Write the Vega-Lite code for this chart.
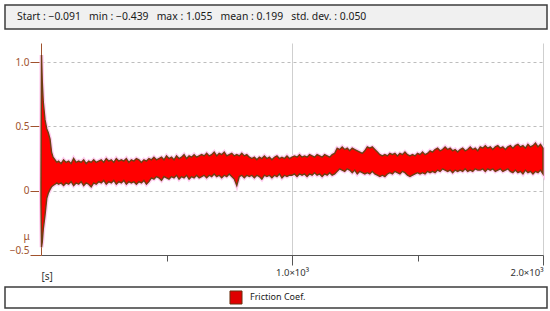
{
  "$schema": "https://vega.github.io/schema/vega-lite/v6.json",
  "padding": {"left": 4, "top": 4, "right": 4, "bottom": 5},
  "background": "white",
  "config": {"font": "Noto Sans", "view": {"stroke": null}},
  "datasets": {
    "stats": [{"label": "Start : −0.091\u00a0\u00a0\u00a0min : −0.439\u00a0\u00a0\u00a0max : 1.055\u00a0\u00a0\u00a0mean : 0.199\u00a0\u00a0\u00a0std. dev. : 0.050"}],
    "legend": [{"series": "Friction Coef."}],
    "empty": [],
    "friction": [
      {"t":0,"lo":-0.09,"hi":0.05},{"t":2,"lo":-0.44,"hi":1.055},{"t":5,"lo":-0.40,"hi":0.85},{"t":9,"lo":-0.30,"hi":0.69},
      {"t":16,"lo":-0.19,"hi":0.55},{"t":23,"lo":-0.06,"hi":0.48},{"t":29,"lo":-0.02,"hi":0.45},{"t":36,"lo":0.01,"hi":0.40},
      {"t":42,"lo":0.03,"hi":0.30},{"t":48,"lo":0.04,"hi":0.26},{"t":56,"lo":0.05,"hi":0.24},{"t":63,"lo":0.06,"hi":0.22},
      {"t":70,"lo":0.05,"hi":0.23},{"t":80,"lo":0.06,"hi":0.21},{"t":90,"lo":0.04,"hi":0.24},{"t":100,"lo":0.06,"hi":0.22},
      {"t":110,"lo":0.05,"hi":0.23},{"t":120,"lo":0.07,"hi":0.21},{"t":130,"lo":0.04,"hi":0.25},{"t":140,"lo":0.06,"hi":0.22},
      {"t":150,"lo":0.05,"hi":0.23},{"t":160,"lo":0.07,"hi":0.22},{"t":170,"lo":0.04,"hi":0.24},{"t":180,"lo":0.06,"hi":0.21},
      {"t":190,"lo":0.05,"hi":0.23},{"t":200,"lo":0.03,"hi":0.22},{"t":210,"lo":0.06,"hi":0.24},{"t":220,"lo":0.05,"hi":0.22},
      {"t":230,"lo":0.07,"hi":0.23},{"t":240,"lo":0.06,"hi":0.24},{"t":250,"lo":0.08,"hi":0.22},{"t":260,"lo":0.05,"hi":0.25},
      {"t":270,"lo":0.07,"hi":0.23},{"t":280,"lo":0.06,"hi":0.24},{"t":290,"lo":0.08,"hi":0.22},{"t":300,"lo":0.05,"hi":0.25},
      {"t":310,"lo":0.07,"hi":0.23},{"t":320,"lo":0.06,"hi":0.24},{"t":330,"lo":0.08,"hi":0.23},{"t":340,"lo":0.05,"hi":0.25},
      {"t":350,"lo":0.07,"hi":0.22},{"t":360,"lo":0.06,"hi":0.24},{"t":370,"lo":0.07,"hi":0.23},{"t":380,"lo":0.05,"hi":0.25},
      {"t":390,"lo":0.07,"hi":0.24},{"t":400,"lo":0.06,"hi":0.22},{"t":410,"lo":0.08,"hi":0.24},{"t":420,"lo":0.05,"hi":0.23},
      {"t":430,"lo":0.07,"hi":0.25},{"t":440,"lo":0.10,"hi":0.24},{"t":450,"lo":0.09,"hi":0.26},{"t":460,"lo":0.11,"hi":0.24},
      {"t":470,"lo":0.10,"hi":0.25},{"t":480,"lo":0.08,"hi":0.26},{"t":490,"lo":0.11,"hi":0.24},{"t":500,"lo":0.10,"hi":0.27},
      {"t":510,"lo":0.09,"hi":0.25},{"t":520,"lo":0.11,"hi":0.26},{"t":530,"lo":0.10,"hi":0.24},{"t":540,"lo":0.12,"hi":0.27},
      {"t":550,"lo":0.09,"hi":0.25},{"t":560,"lo":0.11,"hi":0.26},{"t":570,"lo":0.10,"hi":0.28},{"t":580,"lo":0.12,"hi":0.25},
      {"t":590,"lo":0.09,"hi":0.27},{"t":600,"lo":0.11,"hi":0.26},{"t":610,"lo":0.10,"hi":0.28},{"t":620,"lo":0.12,"hi":0.26},
      {"t":630,"lo":0.10,"hi":0.27},{"t":640,"lo":0.11,"hi":0.28},{"t":650,"lo":0.12,"hi":0.27},{"t":660,"lo":0.10,"hi":0.29},
      {"t":670,"lo":0.12,"hi":0.27},{"t":680,"lo":0.11,"hi":0.28},{"t":690,"lo":0.13,"hi":0.30},{"t":700,"lo":0.11,"hi":0.27},
      {"t":710,"lo":0.12,"hi":0.29},{"t":720,"lo":0.10,"hi":0.28},{"t":730,"lo":0.12,"hi":0.30},{"t":740,"lo":0.11,"hi":0.27},
      {"t":750,"lo":0.13,"hi":0.28},{"t":760,"lo":0.11,"hi":0.29},{"t":770,"lo":0.09,"hi":0.27},{"t":780,"lo":0.04,"hi":0.28},
      {"t":790,"lo":0.11,"hi":0.27},{"t":800,"lo":0.12,"hi":0.29},{"t":810,"lo":0.10,"hi":0.27},{"t":820,"lo":0.12,"hi":0.28},
      {"t":830,"lo":0.11,"hi":0.26},{"t":840,"lo":0.12,"hi":0.25},{"t":850,"lo":0.10,"hi":0.26},{"t":860,"lo":0.12,"hi":0.24},
      {"t":870,"lo":0.11,"hi":0.26},{"t":880,"lo":0.09,"hi":0.25},{"t":890,"lo":0.12,"hi":0.27},{"t":900,"lo":0.11,"hi":0.25},
      {"t":910,"lo":0.12,"hi":0.26},{"t":920,"lo":0.10,"hi":0.24},{"t":930,"lo":0.12,"hi":0.26},{"t":940,"lo":0.11,"hi":0.27},
      {"t":950,"lo":0.13,"hi":0.25},{"t":960,"lo":0.10,"hi":0.26},{"t":970,"lo":0.12,"hi":0.25},{"t":980,"lo":0.11,"hi":0.27},
      {"t":990,"lo":0.12,"hi":0.25},{"t":1000,"lo":0.12,"hi":0.26},{"t":1010,"lo":0.13,"hi":0.27},{"t":1020,"lo":0.11,"hi":0.26},
      {"t":1030,"lo":0.13,"hi":0.28},{"t":1040,"lo":0.12,"hi":0.26},{"t":1050,"lo":0.13,"hi":0.27},{"t":1060,"lo":0.11,"hi":0.26},
      {"t":1070,"lo":0.13,"hi":0.28},{"t":1080,"lo":0.12,"hi":0.27},{"t":1090,"lo":0.14,"hi":0.26},{"t":1100,"lo":0.12,"hi":0.28},
      {"t":1110,"lo":0.13,"hi":0.27},{"t":1120,"lo":0.11,"hi":0.26},{"t":1130,"lo":0.13,"hi":0.28},{"t":1140,"lo":0.12,"hi":0.27},
      {"t":1150,"lo":0.14,"hi":0.26},{"t":1160,"lo":0.12,"hi":0.28},{"t":1170,"lo":0.13,"hi":0.29},{"t":1180,"lo":0.15,"hi":0.33},
      {"t":1190,"lo":0.17,"hi":0.32},{"t":1200,"lo":0.16,"hi":0.34},{"t":1210,"lo":0.15,"hi":0.32},{"t":1220,"lo":0.17,"hi":0.33},
      {"t":1230,"lo":0.16,"hi":0.31},{"t":1240,"lo":0.14,"hi":0.33},{"t":1250,"lo":0.16,"hi":0.32},{"t":1260,"lo":0.13,"hi":0.31},
      {"t":1270,"lo":0.15,"hi":0.30},{"t":1280,"lo":0.14,"hi":0.29},{"t":1290,"lo":0.13,"hi":0.31},{"t":1300,"lo":0.14,"hi":0.34},
      {"t":1310,"lo":0.13,"hi":0.33},{"t":1320,"lo":0.15,"hi":0.34},{"t":1330,"lo":0.13,"hi":0.32},{"t":1340,"lo":0.12,"hi":0.30},
      {"t":1350,"lo":0.11,"hi":0.28},{"t":1360,"lo":0.12,"hi":0.27},{"t":1370,"lo":0.11,"hi":0.28},{"t":1380,"lo":0.13,"hi":0.27},
      {"t":1390,"lo":0.14,"hi":0.29},{"t":1400,"lo":0.13,"hi":0.28},{"t":1410,"lo":0.15,"hi":0.29},{"t":1420,"lo":0.14,"hi":0.27},
      {"t":1430,"lo":0.13,"hi":0.29},{"t":1440,"lo":0.15,"hi":0.28},{"t":1450,"lo":0.14,"hi":0.30},{"t":1460,"lo":0.12,"hi":0.28},
      {"t":1470,"lo":0.11,"hi":0.27},{"t":1480,"lo":0.12,"hi":0.28},{"t":1490,"lo":0.13,"hi":0.27},{"t":1500,"lo":0.14,"hi":0.29},
      {"t":1510,"lo":0.13,"hi":0.28},{"t":1520,"lo":0.14,"hi":0.30},{"t":1530,"lo":0.13,"hi":0.28},{"t":1540,"lo":0.15,"hi":0.29},
      {"t":1550,"lo":0.14,"hi":0.31},{"t":1560,"lo":0.15,"hi":0.30},{"t":1570,"lo":0.14,"hi":0.32},{"t":1580,"lo":0.16,"hi":0.33},
      {"t":1590,"lo":0.15,"hi":0.31},{"t":1600,"lo":0.17,"hi":0.32},{"t":1610,"lo":0.16,"hi":0.34},{"t":1620,"lo":0.15,"hi":0.32},
      {"t":1630,"lo":0.16,"hi":0.33},{"t":1640,"lo":0.14,"hi":0.31},{"t":1650,"lo":0.16,"hi":0.32},{"t":1660,"lo":0.15,"hi":0.30},
      {"t":1670,"lo":0.16,"hi":0.32},{"t":1680,"lo":0.15,"hi":0.33},{"t":1690,"lo":0.17,"hi":0.31},{"t":1700,"lo":0.15,"hi":0.32},
      {"t":1710,"lo":0.16,"hi":0.34},{"t":1720,"lo":0.15,"hi":0.32},{"t":1730,"lo":0.17,"hi":0.33},{"t":1740,"lo":0.16,"hi":0.31},
      {"t":1750,"lo":0.16,"hi":0.34},{"t":1760,"lo":0.17,"hi":0.33},{"t":1770,"lo":0.15,"hi":0.35},{"t":1780,"lo":0.17,"hi":0.33},
      {"t":1790,"lo":0.16,"hi":0.34},{"t":1800,"lo":0.17,"hi":0.32},{"t":1810,"lo":0.15,"hi":0.34},{"t":1820,"lo":0.16,"hi":0.35},
      {"t":1830,"lo":0.17,"hi":0.33},{"t":1840,"lo":0.15,"hi":0.34},{"t":1850,"lo":0.16,"hi":0.32},{"t":1860,"lo":0.17,"hi":0.34},
      {"t":1870,"lo":0.15,"hi":0.35},{"t":1880,"lo":0.14,"hi":0.33},{"t":1890,"lo":0.16,"hi":0.35},{"t":1900,"lo":0.14,"hi":0.36},
      {"t":1910,"lo":0.15,"hi":0.34},{"t":1920,"lo":0.13,"hi":0.35},{"t":1930,"lo":0.16,"hi":0.33},{"t":1940,"lo":0.14,"hi":0.36},
      {"t":1950,"lo":0.15,"hi":0.34},{"t":1960,"lo":0.13,"hi":0.35},{"t":1970,"lo":0.15,"hi":0.37},{"t":1980,"lo":0.14,"hi":0.34},
      {"t":1990,"lo":0.16,"hi":0.36},{"t":2000,"lo":0.13,"hi":0.33}
    ]
  },
  "bounds": "full",
  "spacing": 5,
  "vconcat": [
    {
      "bounds": "full",
      "spacing": 13,
      "vconcat": [
        {
          "width": 542,
          "height": 24,
          "view": {"fill": "#f0f0f0", "stroke": "#3c3c3c", "strokeWidth": 1.5},
          "data": {"name": "stats"},
          "mark": {"type": "text", "align": "left", "baseline": "middle", "fontSize": 10.4, "color": "#1a1a1a"},
          "encoding": {
            "x": {"datum": 0.022, "type": "quantitative", "scale": {"domain": [0, 1]}, "axis": null},
            "y": {"datum": 0.5, "type": "quantitative", "scale": {"domain": [0, 1]}, "axis": null},
            "text": {"field": "label"}
          }
        },
        {
          "bounds": "full",
          "spacing": 0,
          "hconcat": [
            {
              "width": 1,
              "height": 1,
              "data": {"name": "empty"},
              "mark": {"type": "point", "opacity": 0},
              "encoding": {}
            },
            {
              "width": 502,
              "height": 212,
              "data": {"name": "friction"},
              "encoding": {
                "x": {
                  "field": "t", "type": "quantitative",
                  "scale": {"domain": [0, 2000], "nice": false, "zero": false},
                  "axis": {
                    "values": [500, 1000, 1500, 2000],
                    "labelExpr": "datum.value == 1000 ? '1.0×10³' : datum.value == 2000 ? '2.0×10³' : ''",
                    "labelFlush": true,
                    "tickSize": {"condition": {"test": "datum.value % 1000 == 0", "value": 10}, "value": 6},
                    "grid": true,
                    "gridColor": "#cfcfcf",
                    "gridOpacity": {"condition": {"test": "datum.value % 1000 == 0", "value": 1}, "value": 0},
                    "domainColor": "#555555", "tickColor": "#555555",
                    "labelColor": "#333333", "labelFontSize": 9.5, "labelPadding": 2,
                    "title": "[s]", "titleAnchor": "start", "titleX": 0, "titleY": 21,
                    "titleAlign": "left", "titleBaseline": "middle", "titleFontWeight": "normal",
                    "titleFontSize": 10, "titleColor": "#333333"
                  }
                }
              },
              "layer": [
                {
                  "mark": {"type": "area", "color": "#ffcdf0", "stroke": "#ffcdf0", "strokeWidth": 4},
                  "encoding": {
                    "y": {
                      "field": "lo", "type": "quantitative",
                      "scale": {"domain": [-0.5, 1.148], "nice": false, "zero": false},
                      "axis": {
                        "values": [-0.5, -0.25, 0, 0.25, 0.5, 0.75, 1.0],
                        "labelExpr": "datum.value == 1 ? '1.0' : datum.value == 0.5 ? '0.5' : datum.value == 0 ? '0' : datum.value == -0.5 ? '−0.5' : ''",
                        "labelFlush": true,
                        "tickSize": {"condition": {"test": "datum.value == 1 || datum.value == 0.5 || datum.value == 0 || datum.value == -0.5", "value": 11}, "value": 8},
                        "grid": true,
                        "gridColor": "#bdbdbd", "gridDash": [3, 3],
                        "gridOpacity": {"condition": {"test": "datum.value == 1 || datum.value == 0.5 || datum.value == 0", "value": 1}, "value": 0},
                        "domainColor": "#a0522d", "tickColor": "#a0522d", "labelColor": "#a0522d",
                        "labelFontSize": 10, "labelPadding": 1,
                        "title": "μ", "titleAngle": 0, "titleX": -15, "titleY": 193,
                        "titleAlign": "center", "titleBaseline": "middle", "titleColor": "#a0522d",
                        "titleFontSize": 10, "titleFontWeight": "normal",
                        "minExtent": 35, "maxExtent": 35
                      }
                    },
                    "y2": {"field": "hi"}
                  }
                },
                {
                  "mark": {"type": "area", "color": "#ff0000", "stroke": "#6e3f12", "strokeWidth": 1.4},
                  "encoding": {
                    "y": {"field": "lo", "type": "quantitative"},
                    "y2": {"field": "hi"}
                  }
                }
              ]
            }
          ]
        }
      ]
    },
    {
      "width": 542,
      "height": 21,
      "view": {"fill": "white", "stroke": "#3c3c3c", "strokeWidth": 1.5},
      "data": {"name": "legend"},
      "layer": [
        {
          "mark": {"type": "rect", "color": "#e00000", "stroke": "#6b3010", "strokeWidth": 1},
          "encoding": {
            "x": {"datum": 0.4151, "type": "quantitative", "scale": {"domain": [0, 1]}, "axis": null},
            "x2": {"datum": 0.4373},
            "y": {"datum": 0.19, "type": "quantitative", "scale": {"domain": [0, 1]}, "axis": null},
            "y2": {"datum": 0.81}
          }
        },
        {
          "mark": {"type": "text", "align": "left", "baseline": "middle", "fontSize": 9, "color": "#1a1a1a"},
          "encoding": {
            "x": {"datum": 0.452, "type": "quantitative"},
            "y": {"datum": 0.524, "type": "quantitative"},
            "text": {"field": "series"}
          }
        }
      ]
    }
  ]
}
